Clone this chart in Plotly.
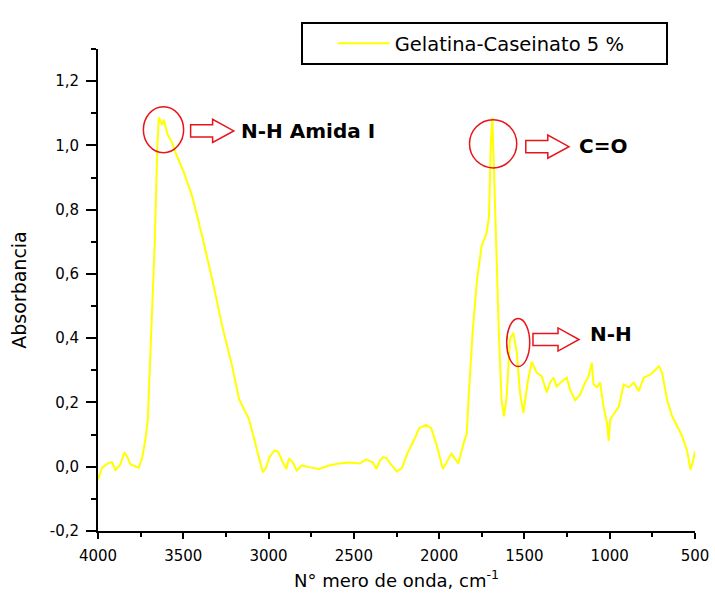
import plotly.graph_objects as go

# FTIR spectrum: wavenumber (cm-1) and absorbance
wavenumber = [
    4000, 3976, 3938, 3918, 3898, 3869, 3845, 3826, 3810, 3782, 3761, 3741, 3722,
    3708, 3698, 3692, 3679, 3667, 3653, 3644, 3624, 3614, 3594, 3565, 3545, 3496,
    3447, 3388, 3329, 3271, 3212, 3173, 3114, 3064, 3034, 3016, 2995, 2965, 2945,
    2916, 2895, 2881, 2857, 2835, 2806, 2757, 2705, 2645, 2587, 2528, 2466, 2428,
    2387, 2367, 2347, 2328, 2307, 2287, 2247, 2217, 2187, 2147, 2117, 2077, 2047,
    2017, 1987, 1978, 1951, 1928, 1908, 1888, 1857, 1838, 1828, 1804, 1778, 1751,
    1722, 1708, 1697, 1688, 1679, 1667, 1650, 1634, 1620, 1604, 1585, 1565, 1545,
    1526, 1506, 1481, 1457, 1428, 1399, 1369, 1350, 1330, 1311, 1281, 1252, 1232,
    1203, 1173, 1144, 1124, 1105, 1095, 1075, 1056, 1036, 1016, 1006, 997, 977,
    947, 918, 888, 859, 830, 800, 761, 732, 712, 693, 663, 634, 605, 575, 546,
    526, 510, 500,
]
absorbance = [
    -0.040, -0.003, 0.012, 0.014, -0.010, 0.007, 0.045, 0.028, 0.007, 0.000, -0.003, 0.028, 0.085,
    0.147, 0.270, 0.343, 0.520, 0.700, 0.985, 1.087, 1.064, 1.080, 1.037, 1.007, 0.977, 0.915,
    0.840, 0.715, 0.580, 0.436, 0.310, 0.210, 0.147, 0.050, -0.017, -0.005, 0.030, 0.051, 0.047,
    0.014, -0.007, 0.026, 0.013, -0.012, 0.004, -0.002, -0.007, 0.004, 0.010, 0.013, 0.010, 0.023,
    0.013, -0.007, 0.019, 0.030, 0.026, 0.010, -0.015, -0.003, 0.041, 0.083, 0.120, 0.130, 0.120,
    0.072, 0.004, -0.007, 0.019, 0.041, 0.026, 0.010, 0.072, 0.103, 0.207, 0.417, 0.582, 0.687,
    0.727, 0.777, 1.007, 1.087, 0.934, 0.707, 0.417, 0.207, 0.157, 0.217, 0.397, 0.417, 0.357,
    0.231, 0.167, 0.262, 0.327, 0.292, 0.282, 0.231, 0.262, 0.277, 0.250, 0.265, 0.277, 0.240,
    0.207, 0.225, 0.262, 0.281, 0.324, 0.257, 0.247, 0.262, 0.187, 0.137, 0.080, 0.147, 0.162,
    0.187, 0.256, 0.247, 0.262, 0.235, 0.277, 0.287, 0.302, 0.313, 0.293, 0.207, 0.157, 0.126, 0.095, 0.048,
    -0.009, 0.020, 0.048,
]
series_name = "Gelatina-Caseinato 5 %"

x_tick_vals = [4000, 3500, 3000, 2500, 2000, 1500, 1000, 500]
x_tick_text = ["4000", "3500", "3000", "2500", "2000", "1500", "1000", "500"]
y_tick_vals = [-0.2, 0.0, 0.2, 0.4, 0.6, 0.8, 1.0, 1.2]
y_tick_text = ["-0,2", "0,0", "0,2", "0,4", "0,6", "0,8", "1,0", "1,2"]

# Band labels: (text, label x, label y)
band_labels = [
    ("N-H Amida I", 3175, 1.045),
    ("C=O", 1192, 0.999),
    ("N-H", 1128, 0.414),
]
# Band markers (ellipses): x0, x1, y0, y1
band_marks = [
    (3734, 3498, 0.977, 1.120),
    (1822, 1545, 0.930, 1.080),
    (1604, 1469, 0.312, 0.461),
]
# Hollow arrows: tail x, head base x, tip x, centre y
band_arrows = [
    (3457, 3328, 3204, 1.045),
    (1492, 1363, 1239, 0.996),
    (1450, 1303, 1180, 0.396),
]

FONT = "DejaVu Sans"
RED = "#E8141B"


def hollow_arrow(x_tail, x_base, x_tip, yc, shaft=0.019, head=0.036):
    pts = [
        (x_tail, yc - shaft), (x_base, yc - shaft), (x_base, yc - head),
        (x_tip, yc), (x_base, yc + head), (x_base, yc + shaft), (x_tail, yc + shaft),
    ]
    return "M " + " L ".join(f"{x},{y}" for x, y in pts) + " Z"


fig = go.Figure()
fig.add_trace(go.Scatter(
    x=wavenumber, y=absorbance, mode="lines", name=series_name,
    line=dict(color="#FFFF00", width=2),
))

for x0, x1, y0, y1 in band_marks:
    fig.add_shape(type="circle", xref="x", yref="y", x0=x0, x1=x1, y0=y0, y1=y1,
                  line=dict(color=RED, width=1.5))
for xt, xb, xp, yc in band_arrows:
    fig.add_shape(type="path", xref="x", yref="y", path=hollow_arrow(xt, xb, xp, yc),
                  line=dict(color=RED, width=1.5), fillcolor="white")
for text, x, y in band_labels:
    fig.add_annotation(x=x, y=y, xref="x", yref="y", text=f"<b>{text}</b>",
                       showarrow=False, xanchor="left", yanchor="middle",
                       font=dict(family=FONT, size=20, color="black"))

axis_common = dict(
    showline=True, linecolor="black", linewidth=2, mirror=False,
    showgrid=False, zeroline=False, ticks="outside", tickcolor="black",
    tickwidth=2, tickfont=dict(family=FONT, size=15, color="black"),
    ticklabelstandoff=4, automargin=False,
)

fig.update_layout(
    width=715, height=608,
    margin=dict(l=98, r=20, t=49, b=77),
    paper_bgcolor="white", plot_bgcolor="white",
    showlegend=True,
    legend=dict(
        orientation="h",
        x=0.3395, y=1.056, xanchor="left", yanchor="top",
        bordercolor="black", borderwidth=2, bgcolor="white",
        font=dict(family=FONT, size=19.5, color="black"),
        itemwidth=52, indentation=30,
        entrywidth=266, entrywidthmode="pixels",
    ),
    xaxis=dict(
        axis_common, range=[4000, 500], tickmode="array",
        tickvals=x_tick_vals, ticktext=x_tick_text, ticklen=6,
        minor=dict(dtick=250, tick0=0, ticklen=4, tickwidth=2, tickcolor="black", ticks="outside"),
        title=dict(text="N° mero de onda, cm<sup>-1</sup>", standoff=10,
                   font=dict(family=FONT, size=18, color="black")),
    ),
    yaxis=dict(
        axis_common, range=[-0.2, 1.3], tickmode="array",
        tickvals=y_tick_vals, ticktext=y_tick_text, ticklen=10,
        minor=dict(dtick=0.1, tick0=0, ticklen=5, tickwidth=2, tickcolor="black", ticks="outside"),
        title=dict(text="Absorbancia", standoff=18,
                   font=dict(family=FONT, size=19, color="black")),
    ),
)

fig.write_html("out.html")
